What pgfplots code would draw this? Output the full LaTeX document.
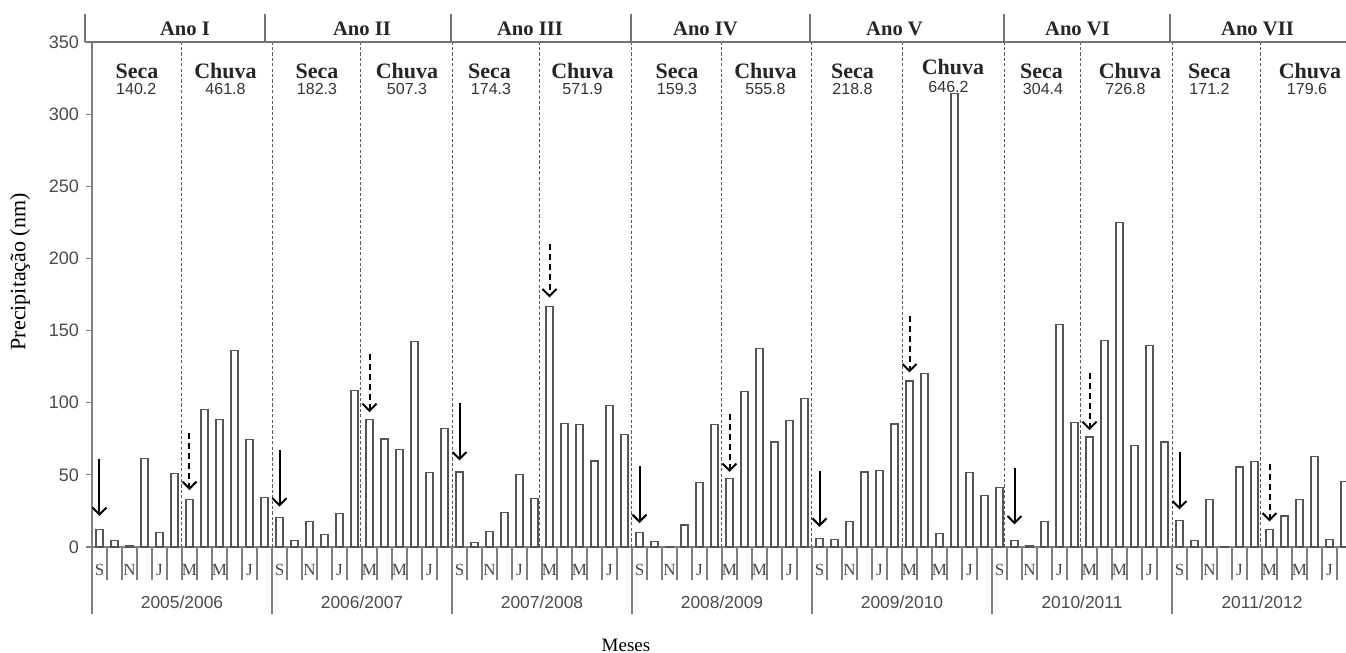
\documentclass[border=0pt]{standalone}
\usepackage{fontspec}
\setmainfont{Liberation Serif}
\setsansfont{Liberation Sans}
\usepackage{pgfplots}
\usepackage{pgfplotstable}
\pgfplotsset{compat=1.18}
\usetikzlibrary{arrows.meta}

\definecolor{axgray}{HTML}{7F7F7F}
\definecolor{bargray}{HTML}{555555}
\definecolor{txtgray}{HTML}{4A4A4A}

\tikzset{
  dotline/.style={draw=black!65, line width=0.5pt, dash pattern=on 1.6pt off 1.1pt},
  hdr/.style={draw=black!55, line width=0.8pt},
  mtick/.style={draw=axgray, line width=0.6pt},
  secs/.style={font=\bfseries\fontsize{11}{11}\selectfont, text=black!85},
  nums/.style={font=\sffamily\fontsize{8}{8}\selectfont, text=black!80},
  anos/.style={font=\bfseries\fontsize{10.3}{10.3}\selectfont, text=black!85},
  yrs/.style={font=\sffamily\fontsize{8.7}{8.7}\selectfont, text=txtgray},
}

% monthly precipitation (mm), Sep 2005 ... Aug 2012
\pgfplotstableread{
x y
0 12
1 4.5
2 1
3 61.5
4 10.2
5 51
6 33
7 95.5
8 88.3
9 136
10 74.5
11 34.5
12 20.5
13 4.5
14 17.5
15 8.5
16 23
17 108.3
18 88.3
19 74.8
20 67.8
21 142.6
22 51.8
23 82
24 52
25 3
26 11
27 24
28 50.5
29 33.8
30 166.5
31 85.5
32 84.8
33 59.6
34 97.8
35 77.7
36 10.2
37 3.8
38 0.5
39 15.3
40 44.5
41 85
42 47.5
43 107.5
44 137.5
45 72.8
46 87.8
47 102.7
48 6
49 5
50 17.6
51 52
52 53
53 85.2
54 115
55 120
56 9.5
57 314.5
58 51.6
59 35.6
60 41
61 4.5
62 1
63 17.5
64 154
65 86.4
66 76.3
67 143.2
68 224.8
69 70.2
70 139.5
71 72.8
72 18.5
73 4.5
74 32.8
75 0.5
76 55.5
77 59.4
78 12
79 21.5
80 32.8
81 62.5
82 5.3
83 45.5
}\bars

\pgfplotstableread{
x y v
0 61 -39.5
12 67 -39
24 100 -40
36 56 -39.4
48 53 -39
61 54.6 -39
72 66 -40
}\solidarrows

\pgfplotstableread{
x y v
6 79 -39.5
18 134 -40.5
30 210 -37
42 92 -40
54 160 -39
66 120.6 -39.6
78 57.4 -39.7
}\dasharrows

\pgfplotstableread{
x y lab
0 0 S
2 0 N
4 0 J
6 0 M
8 0 M
10 0 J
12 0 S
14 0 N
16 0 J
18 0 M
20 0 M
22 0 J
24 0 S
26 0 N
28 0 J
30 0 M
32 0 M
34 0 J
36 0 S
38 0 N
40 0 J
42 0 M
44 0 M
46 0 J
48 0 S
50 0 N
52 0 J
54 0 M
56 0 M
58 0 J
60 0 S
62 0 N
64 0 J
66 0 M
68 0 M
70 0 J
72 0 S
74 0 N
76 0 J
78 0 M
80 0 M
82 0 J
}\months

\begin{document}
\begin{tikzpicture}
\begin{axis}[
  scale only axis,
  width=627pt, height=252.5pt,
  xmin=-0.5, xmax=83.1, ymin=0, ymax=350,
  axis x line*=bottom, axis y line*=left,
  axis line style={draw=axgray, line width=0.8pt},
  xtick=\empty,
  ytick={0,50,...,350},
  tick align=outside, major tick length=3pt,
  ytick style={draw=axgray, line width=0.6pt},
  yticklabel style={font=\sffamily\fontsize{9}{9}\selectfont, text=txtgray},
  /pgf/number format/assume math mode=true,
  clip=false,
]
% dotted separators (dry / wet halves)
\pgfplotsinvokeforeach{5.5,11.5,17.4,23.5,29.3,35.45,41.45,47.45,53.5,60.3,65.4,71.5,77.4}{
  \draw[dotline] (axis cs:#1,0) -- (axis cs:#1,350);
}
% header
\draw[hdr] (axis cs:-0.97,350) -- (axis cs:83.6,350);
\pgfplotsinvokeforeach{-0.97,11.03,23.43,35.43,47.37,60.3,71.37}{
  \draw[hdr] (axis cs:#1,350) -- ++(0pt,14pt);
}
\node[anos] at ([yshift=6.5pt]axis cs:5.7,350) {Ano I};
\node[anos] at ([yshift=6.5pt]axis cs:17.5,350) {Ano II};
\node[anos] at ([yshift=6.5pt]axis cs:28.7,350) {Ano III};
\node[anos] at ([yshift=6.5pt]axis cs:40.4,350) {Ano IV};
\node[anos] at ([yshift=6.5pt]axis cs:53,350) {Ano V};
\node[anos] at ([yshift=6.5pt]axis cs:65.2,350) {Ano VI};
\node[anos] at ([yshift=6.5pt]axis cs:77.2,350) {Ano VII};

% month boundary ticks
\pgfplotsinvokeforeach{-0.5,0.5,...,83.5}{
  \draw[mtick] (axis cs:#1,0) -- ++(0pt,-16.5pt);
}
\pgfplotsinvokeforeach{-0.5,11.5,23.5,35.5,47.5,59.5,71.5}{
  \draw[mtick] (axis cs:#1,0) -- ++(0pt,-33.5pt);
}
% month labels
\addplot[draw=none, mark=none, nodes near coords, point meta=explicit symbolic,
  every node near coord/.style={anchor=center, yshift=-11.5pt,
    font=\fontsize{8.5}{8.5}\selectfont, text=txtgray}]
  table[x=x, y=y, meta=lab] {\months};
% year labels
\node[yrs] at ([yshift=-27.5pt]axis cs:5.5,0) {2005/2006};
\node[yrs] at ([yshift=-27.5pt]axis cs:17.5,0) {2006/2007};
\node[yrs] at ([yshift=-27.5pt]axis cs:29.5,0) {2007/2008};
\node[yrs] at ([yshift=-27.5pt]axis cs:41.5,0) {2008/2009};
\node[yrs] at ([yshift=-27.5pt]axis cs:53.5,0) {2009/2010};
\node[yrs] at ([yshift=-27.5pt]axis cs:65.5,0) {2010/2011};
\node[yrs] at ([yshift=-27.5pt]axis cs:77.5,0) {2011/2012};
\node[font=\fontsize{9.5}{9.5}\selectfont] at ([yshift=-49pt]axis cs:35.1,0) {Meses};
\node[rotate=90, font=\fontsize{11}{11}\selectfont] at ([xshift=-36pt]rel axis cs:0,0.545) {Precipitação (nm)};

% bars
\addplot[ybar, bar width=3.5pt, fill=white, draw=bargray, line width=0.6pt] table[x=x, y=y] {\bars};

% arrows
\addplot[black, line width=1pt, -{Straight Barb[length=3.5pt,width=7pt]},
  quiver={u=0, v=\thisrow{v}}] table[x=x, y=y] {\solidarrows};
\addplot[black, line width=1pt, dash pattern=on 3pt off 2pt, -{Straight Barb[length=3.5pt,width=7pt]},
  quiver={u=0, v=\thisrow{v}}] table[x=x, y=y] {\dasharrows};

% season totals
\node[secs] at (axis cs:2.5,330) {Seca};
\node[nums] at (axis cs:2.45,317.5) {140.2};
\node[secs] at (axis cs:8.4,330) {Chuva};
\node[nums] at (axis cs:8.4,317.5) {461.8};
\node[secs] at (axis cs:14.5,330) {Seca};
\node[nums] at (axis cs:14.5,317.5) {182.3};
\node[secs] at (axis cs:20.5,330) {Chuva};
\node[nums] at (axis cs:20.5,317.5) {507.3};
\node[secs] at (axis cs:26.0,330) {Seca};
\node[nums] at (axis cs:26.1,317.5) {174.3};
\node[secs] at (axis cs:32.2,330) {Chuva};
\node[nums] at (axis cs:32.2,317.5) {571.9};
\node[secs] at (axis cs:38.5,330) {Seca};
\node[nums] at (axis cs:38.5,317.5) {159.3};
\node[secs] at (axis cs:44.4,330) {Chuva};
\node[nums] at (axis cs:44.4,317.5) {555.8};
\node[secs] at (axis cs:50.2,330) {Seca};
\node[nums] at (axis cs:50.2,317.5) {218.8};
\node[secs] at (axis cs:56.9,332.5) {Chuva};
\node[nums] at (axis cs:56.6,319) {646.2};
\node[secs] at (axis cs:62.8,330) {Seca};
\node[nums] at (axis cs:62.9,317.5) {304.4};
\node[secs] at (axis cs:68.7,330) {Chuva};
\node[nums] at (axis cs:68.4,317.5) {726.8};
\node[secs] at (axis cs:74.0,330) {Seca};
\node[nums] at (axis cs:74.0,317.5) {171.2};
\node[secs] at (axis cs:80.7,330) {Chuva};
\node[nums] at (axis cs:80.5,317.5) {179.6};
\end{axis}
\pgfresetboundingbox
\useasboundingbox (-46pt,-53pt) rectangle (627pt,273.5pt);
\end{tikzpicture}
\end{document}
